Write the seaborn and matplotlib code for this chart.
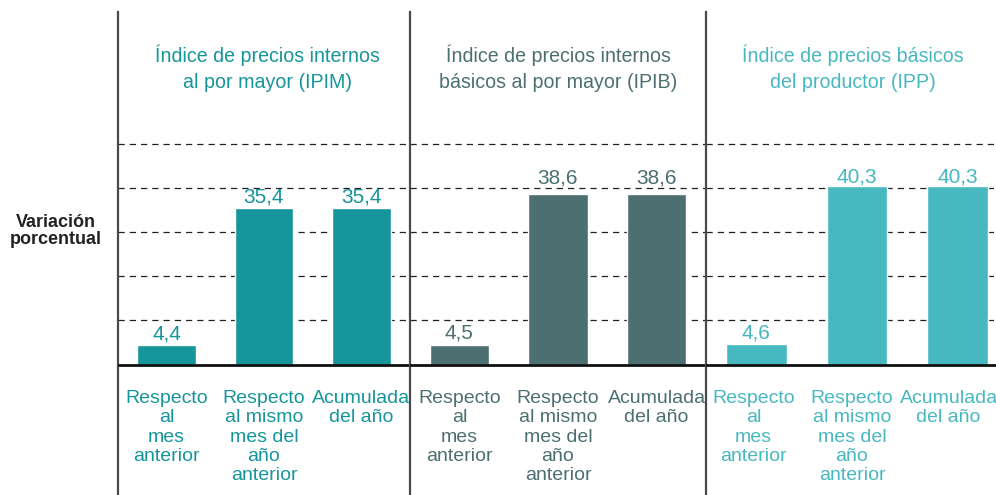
import matplotlib
matplotlib.use("Agg")
import matplotlib.pyplot as plt
import seaborn as sns
import pandas as pd

# data
categories = ["Respecto\nal\nmes\nanterior",
              "Respecto\nal mismo\nmes del\naño\nanterior",
              "Acumulada\ndel año"]
ipim = [4.4, 35.4, 35.4]
ipib = [4.5, 38.6, 38.6]
ipp = [4.6, 40.3, 40.3]
titles = ["Índice de precios internos\nal por mayor (IPIM)",
          "Índice de precios internos\nbásicos al por mayor (IPIB)",
          "Índice de precios básicos\ndel productor (IPP)"]
bar_colors = ["#16959a", "#4c6f72", "#48b8c0"]
grid_vals = [10, 20, 30, 40, 50]

sns.set_style("white")
plt.rcParams["font.family"] = ["Liberation Sans", "DejaVu Sans"]

W, H = 996, 495
fig = plt.figure(figsize=(W / 100, H / 100), dpi=100)

# panel edges in pixels
edges = [(118, 410), (410, 706), (706, 1008)]
# small shifts of the category labels so the last panel fits in the frame
label_shift = [[0, 0, 0], [0, 0, 0], [-0.03, -0.05, -0.09]]
# gap between bar top and its value label (data units)
value_pad = [[0.4, 0.4, 0.4], [0.4, 1.5, 1.5], [0.4, 0.0, 0.0]]
title_x = [1.04, 1.0, 0.96]
top_px, base_px, ppu = 12, 364.5, 4.42
ylim = (-(H - base_px) / ppu, (base_px - top_px) / ppu)

for i, (series, (x0, x1)) in enumerate(zip([ipim, ipib, ipp], edges)):
    ax = fig.add_axes([x0 / W, 0, (x1 - x0) / W, (H - top_px) / H])
    df = pd.DataFrame({"cat": categories, "val": series})
    for g in grid_vals:
        ax.axhline(g, color="#222222", lw=0.9, ls=(0, (5, 4)), zorder=0)
    sns.barplot(data=df, x="cat", y="val", color=bar_colors[i], saturation=1,
                width=0.6, ax=ax, zorder=2)
    ax.axhline(0, color="#111111", lw=2, zorder=3)
    ax.set_xlim(-0.5, 2.5)
    ax.set_ylim(*ylim)
    ax.set_xticks([])
    ax.set_yticks([])
    ax.set_xlabel("")
    ax.set_ylabel("")
    for s in ["top", "right", "bottom"]:
        ax.spines[s].set_visible(False)
    ax.spines["left"].set_color("#4a4a4a")
    ax.spines["left"].set_linewidth(1.6)
    ax.patch.set_alpha(0)

    for j, v in enumerate(series):
        ax.text(j, v + value_pad[i][j], f"{v:.1f}".replace(".", ","), ha="center",
                va="bottom", fontsize=15, color=bar_colors[i], zorder=4)
        ax.text(j + label_shift[i][j], -5.8, categories[j], ha="center", va="top",
                fontsize=14, color=bar_colors[i], linespacing=1.18)
    ax.text(title_x[i], 67.0, titles[i], ha="center", va="center", fontsize=14.1,
            color=bar_colors[i], linespacing=1.42)

fig.text(56 / W, 1 - 231 / H, "Variación\nporcentual", ha="center", va="center",
         fontsize=13, fontweight="bold", color="#222222", linespacing=1.05)

fig.savefig("out.png", dpi=100)
